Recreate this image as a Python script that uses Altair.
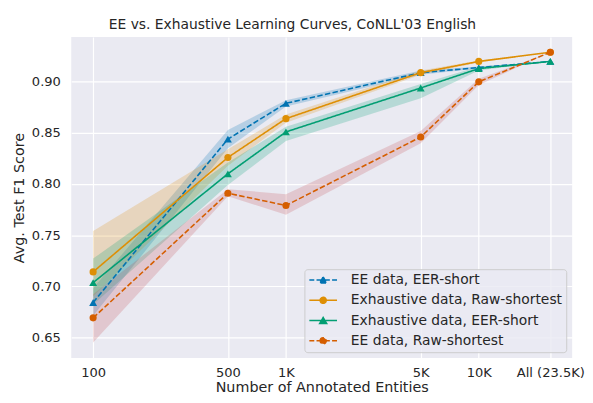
import altair as alt
import pandas as pd

# ---- data ----
x_vals = [100, 500, 1000, 5000, 10000, 23500]
tick_labels = ["100", "500", "1K", "5K", "10K", "All (23.5K)"]
series_names = [
    "EE data, EER-short",
    "Exhaustive data, Raw-shortest",
    "Exhaustive data, EER-short",
    "EE data, Raw-shortest",
]

ee_eer = [0.684, 0.844, 0.879, 0.909, 0.914, 0.920]
ee_eer_lo = [0.671, 0.835, 0.876, 0.907, 0.913, 0.920]
ee_eer_hi = [0.698, 0.853, 0.882, 0.911, 0.915, 0.920]

exh_raw = [0.714, 0.826, 0.864, 0.909, 0.920, 0.929]
exh_raw_lo = [0.690, 0.818, 0.860, 0.907, 0.919, 0.929]
exh_raw_hi = [0.754, 0.834, 0.868, 0.911, 0.921, 0.929]

exh_eer = [0.7035, 0.810, 0.851, 0.894, 0.913, 0.920]
exh_eer_lo = [0.682, 0.799, 0.842, 0.884, 0.911, 0.920]
exh_eer_hi = [0.727, 0.821, 0.856, 0.898, 0.915, 0.920]

ee_raw = [0.669, 0.791, 0.779, 0.846, 0.900, 0.929]
ee_raw_lo = [0.645, 0.788, 0.770, 0.840, 0.897, 0.929]
ee_raw_hi = [0.692, 0.795, 0.790, 0.852, 0.903, 0.929]

line_colors = ["#0173b2", "#de8f05", "#029e73", "#d55e00"]
band_colors = ["#0173b2", "#de8f05", "#029e73", "#c44e52"]
dashes = [[5.5, 2.4], [1, 0], [1, 0], [5.5, 2.4]]
marker_kind = ["triangle", "circle", "triangle", "circle"]

# legend symbols: line (dashed / solid) with a marker, in units of sqrt(size)/2
tri = "M0,-0.62L0.72,0.62L-0.72,0.62Z"
circ = "M-0.62,0A0.62,0.62,0,1,1,0.62,0A0.62,0.62,0,1,1,-0.62,0Z"
dashed = "M-2.8,0H-1.8M-1.35,0H-0.35M0.35,0H1.35M1.8,0H2.8"
solid = "M-2.8,0H2.8"
legend_shapes = [dashed + tri, solid + circ, solid + tri, dashed + circ]

rows = []
for name, mean, lo, hi, kind in zip(
    series_names,
    [ee_eer, exh_raw, exh_eer, ee_raw],
    [ee_eer_lo, exh_raw_lo, exh_eer_lo, ee_raw_lo],
    [ee_eer_hi, exh_raw_hi, exh_eer_hi, ee_raw_hi],
    marker_kind,
):
    for xv, m, l, h in zip(x_vals, mean, lo, hi):
        rows.append({"series": name, "n": xv, "f1": m, "lo": l, "hi": h, "kind": kind})
df = pd.DataFrame(rows)

label_expr = " : ".join(
    f"datum.value == {v} ? '{t}'" for v, t in zip(x_vals, tick_labels)
) + " : ''"

x_enc = alt.X(
    "n:Q",
    scale=alt.Scale(type="log", domain=[77, 30500], nice=False),
    axis=alt.Axis(values=x_vals, labelExpr=label_expr, labelOverlap=False,
                  title="Number of Annotated Entities", labelPadding=9, titlePadding=2),
)
y_scale = alt.Scale(domain=[0.6296, 0.9439], nice=False, zero=False)
y_axis = alt.Axis(values=[0.65, 0.70, 0.75, 0.80, 0.85, 0.90], format=".2f",
                  title="Avg. Test F1 Score", labelPadding=11, titlePadding=5)

color_scale = alt.Scale(domain=series_names, range=line_colors)

base = alt.Chart(df)

legend_def = alt.Legend(
    title=None,
    orient="bottom-right",
    offset=6,
    symbolSize=100,
    symbolStrokeWidth=1.5,
    symbolOffset=8,
    labelOffset=21,
    rowPadding=6.5,
    padding=4,
    labelFontSize=14,
    labelFont="DejaVu Sans",
    labelColor="#262626",
    fillColor="rgba(234,234,242,0.8)",
    strokeColor="#cccccc",
    cornerRadius=3,
    labelLimit=400,
)

legend_layer = base.transform_filter("false").mark_point(
    filled=True, strokeWidth=1.5, opacity=1
).encode(
    color=alt.Color("series:N", scale=color_scale, legend=legend_def),
    stroke=alt.Stroke("series:N", scale=alt.Scale(domain=series_names, range=line_colors), legend=legend_def),
    shape=alt.Shape("series:N", scale=alt.Scale(domain=series_names, range=legend_shapes), legend=legend_def),
)

bands = base.mark_area(opacity=0.22).encode(
    x=x_enc,
    y=alt.Y("lo:Q", scale=y_scale, axis=y_axis),
    y2="hi:Q",
    fill=alt.Fill("series:N", scale=alt.Scale(domain=series_names, range=band_colors), legend=None),
    detail="series:N",
)

lines = base.mark_line(strokeWidth=1.6).encode(
    x=x_enc,
    y=alt.Y("f1:Q", scale=y_scale, axis=y_axis),
    color=alt.Color("series:N", scale=color_scale),
    strokeDash=alt.StrokeDash("series:N", scale=alt.Scale(domain=series_names, range=dashes), legend=None),
    detail="series:N",
)

tri_pts = base.transform_filter(alt.datum.kind == "triangle").mark_point(
    filled=True, shape="triangle-up", size=64, opacity=1
).encode(
    x=x_enc,
    y=alt.Y("f1:Q", scale=y_scale, axis=y_axis),
    color=alt.Color("series:N", scale=color_scale),
)

circ_pts = base.transform_filter(alt.datum.kind == "circle").mark_point(
    filled=True, shape="circle", size=52, opacity=1
).encode(
    x=x_enc,
    y=alt.Y("f1:Q", scale=y_scale, axis=y_axis),
    color=alt.Color("series:N", scale=color_scale),
)

chart = alt.layer(legend_layer, bands, lines, tri_pts, circ_pts).properties(
    width=507,
    height=325,
    padding={"left": 3, "top": 8, "right": 0, "bottom": 0},
    view=alt.ViewBackground(fill="#EAEAF2", strokeWidth=0),
    title=alt.TitleParams(
        "EE vs. Exhaustive Learning Curves, CoNLL'03 English",
        fontSize=14, fontWeight="normal", font="DejaVu Sans", color="#262626",
        anchor="start", frame="group", dx=38, offset=5,
    ),
).configure_view(
    fill="#EAEAF2", strokeWidth=0
).configure_axis(
    grid=True, gridColor="white", gridWidth=1.2, domain=False, ticks=False, tickSize=0,
    labelFont="DejaVu Sans", labelFontSize=13.2, labelColor="#262626",
    titleFont="DejaVu Sans", titleFontSize=14.5, titleColor="#262626", titleFontWeight="normal",
)

chart.save("out.html", embed_options={"renderer": "svg", "actions": False})
